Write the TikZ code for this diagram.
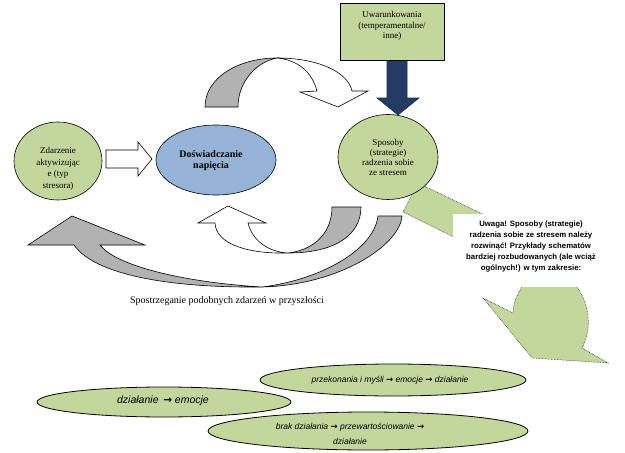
\documentclass[tikz,border=0pt]{standalone}
\usepackage{fontspec}
\setmainfont{Liberation Serif}
\newfontfamily\arialfont{Liberation Sans}
\newfontfamily\symfont{DejaVu Sans}
\newcommand{\arrowsym}{{\symfont\bfseries\upshape →}}
\usetikzlibrary{shapes.geometric}
\definecolor{olivelight}{RGB}{195,214,155}
\definecolor{bluelight}{RGB}{149,179,215}
\definecolor{navy}{RGB}{36,60,100}
\definecolor{shade}{RGB}{178,178,178}

\begin{document}
\begin{tikzpicture}
  [x=1pt,y=-1pt,line width=0.6pt,
   blob/.style={ellipse,draw,fill=olivelight,inner sep=0pt},
   txt/.style={align=center,inner sep=0pt,font=\fontsize{9}{11.5}\selectfont},
   oval/.style={blob,line width=0.8pt},
   ovaltxt/.style={txt,font=\arialfont\itshape\fontsize{8.5}{15}\selectfont},
   flat/.style={draw,fill=white},
   back/.style={draw,fill=shade},
   dots/.style={draw,densely dotted,fill=olivelight,line width=0.5pt}]
  \useasboundingbox (0,0) rectangle (625,453);

  % green arrow, upper piece
  \draw[dots] (403,212) -- (418,183) -- (495,220) -- (480,250) -- cycle;

  % curved arrow over the top
  \draw[back] (205,107) .. controls (205,78) and (238,58) .. (277,58)
    .. controls (256,62) and (238,82) .. (238,107) -- cycle;
  \draw[flat] (277,58) .. controls (318,58) and (348,72) .. (352,91)
    -- (368,91) -- (338,107) -- (300,92) -- (317,91)
    .. controls (312,72) and (298,60) .. (277,58) -- cycle;

  % small curved arrow below
  \draw[back] (288,253) .. controls (335,253) and (361,235) .. (361,207)
    -- (332,207) .. controls (332,232) and (315,250) .. (288,253) -- cycle;
  \draw[flat] (288,253) .. controls (250,254) and (216,245) .. (215,223)
    -- (198,223) -- (228,206) -- (266,223) -- (248,223)
    .. controls (252,240) and (268,252) .. (288,253) -- cycle;

  % big curved arrow back to the event
  \draw[back] (262,287) .. controls (340,285) and (400,245) .. (402,216)
    -- (378,216) .. controls (374,250) and (320,280) .. (262,287) -- cycle;
  \draw[back] (262,287) .. controls (170,288) and (95,275) .. (74,245)
    -- (28,245) -- (72,216) -- (145,245) -- (100,245)
    .. controls (115,265) and (180,282) .. (262,287) -- cycle;

  % straight arrows
  \draw[flat] (106,150) -- (138,150) -- (138,142) -- (152,159)
    -- (138,176) -- (138,168) -- (106,168) -- cycle;
  \draw[fill=navy,draw=navy!80!black] (387,60) -- (407,60) -- (407,98) -- (419,98)
    -- (398,115) -- (377,98) -- (387,98) -- cycle;

  \node[draw,fill=olivelight,minimum width=104pt,minimum height=57pt,inner sep=0pt] (cond) at (392,31.5) {};
  \node[txt,font=\fontsize{9}{10.5}\selectfont] (condtxt) at (392,26) {Uwarunkowania\\(temperamentalne/\\inne)};

  \node[blob,minimum width=88pt,minimum height=78pt] (event) at (58,161) {};
  \node[txt] (eventtxt) at (58,169) {Zdarzenie\\aktywizując\\e (typ\\stresora)};

  \node[ellipse,draw,fill=bluelight,minimum width=120pt,minimum height=70pt] (tension) at (216,160) {};
  \node[txt,font=\bfseries\fontsize{10}{11}\selectfont] (tensiontxt) at (211,161) {Doświadczanie\\napięcia};

  \node[blob,minimum width=100pt,minimum height=85pt] (coping) at (388,157) {};
  \node[txt,font=\fontsize{9}{10}\selectfont] (copingtxt) at (388,157) {Sposoby\\(strategie)\\radzenia sobie\\ze stresem};

  \node[txt,font=\fontsize{10}{12}\selectfont] (percept) at (227,301) {Spostrzeganie podobnych zdarzeń w przyszłości};

  % green arrow, lower piece and the note over it
  \draw[dots] (522,283) -- (522,287) .. controls (517,295) and (513,303) .. (513,313)
    -- (483,298) -- (532,358) -- (608,363) -- (582,348)
    .. controls (592,330) and (590,305) .. (577,287) -- (577,283) -- cycle;
  \node[fill=white,minimum width=160pt,minimum height=73pt,inner sep=0pt] (notebox) at (533,250.5) {};
  \node[txt,font=\arialfont\bfseries\fontsize{7.8}{11}\selectfont] (note) at (531,246)
    {Uwaga! Sposoby (strategie)\\radzenia sobie ze stresem należy\\rozwinąć! Przykłady schematów\\bardziej rozbudowanych (ale wciąż\\ogólnych!) w tym zakresie:};

  % examples
  \node[oval,minimum width=254pt,minimum height=30pt] (act) at (164,402) {};
  \node[ovaltxt,font=\arialfont\itshape\fontsize{10.5}{12}\selectfont] (acttxt) at (163,401) {działanie \,\arrowsym\ emocje};
  \node[oval,minimum width=266pt,minimum height=32pt] (belief) at (393,380) {};
  \node[ovaltxt] (belieftxt) at (390,380) {przekonania i myśli \arrowsym\ emocje \arrowsym\ działanie};
  \node[oval,minimum width=320pt,minimum height=38pt] (noact) at (368,431) {};
  \node[ovaltxt] (noacttxt) at (350,434) {brak działania \arrowsym\ przewartościowanie \arrowsym\\działanie};

\end{tikzpicture}
\end{document}
